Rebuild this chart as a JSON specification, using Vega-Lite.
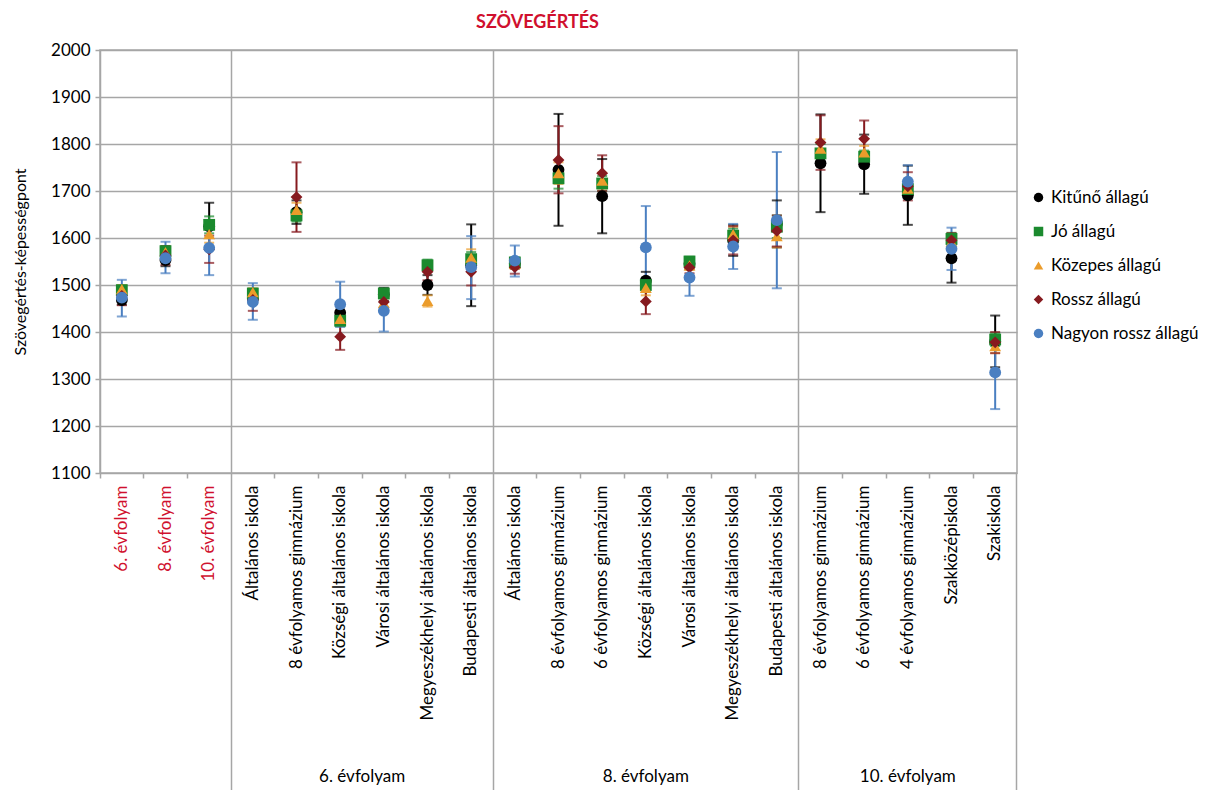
{
  "$schema": "https://vega.github.io/schema/vega-lite/v6.json",
  "autosize": {"type": "none"},
  "padding": {"left": 100, "top": 50, "right": 207, "bottom": 317},
  "width": 917,
  "height": 423,
  "title": {"text": "SZÖVEGÉRTÉS", "color": "#d0102e", "fontSize": 18, "fontWeight": "bold", "font": "Lato", "offset": 9, "dx": -21},
  "datasets": {
    "d": [
      {"c": "6. évfolyam", "s": "Kitűnő állagú", "v": 1468, "lo": 1458, "hi": 1478},
      {"c": "8. évfolyam", "s": "Kitűnő állagú", "v": 1553, "lo": 1540, "hi": 1566},
      {"c": "10. évfolyam", "s": "Kitűnő állagú", "v": 1625, "lo": 1575, "hi": 1675},
      {"c": "6|Általános iskola", "s": "Kitűnő állagú", "v": 1470, "lo": 1460, "hi": 1480},
      {"c": "6|8 évfolyamos gimnázium", "s": "Kitűnő állagú", "v": 1655, "lo": 1630, "hi": 1680},
      {"c": "6|Községi általános iskola", "s": "Kitűnő állagú", "v": 1441, "lo": 1425, "hi": 1457},
      {"c": "6|Városi általános iskola", "s": "Kitűnő állagú", "v": 1480, "lo": 1466, "hi": 1494},
      {"c": "6|Megyeszékhelyi általános iskola", "s": "Kitűnő állagú", "v": 1500, "lo": 1479, "hi": 1521},
      {"c": "6|Budapesti általános iskola", "s": "Kitűnő állagú", "v": 1542, "lo": 1455, "hi": 1629},
      {"c": "8|Általános iskola", "s": "Kitűnő állagú", "v": 1545, "lo": 1535, "hi": 1555},
      {"c": "8|8 évfolyamos gimnázium", "s": "Kitűnő állagú", "v": 1745, "lo": 1626, "hi": 1864},
      {"c": "8|6 évfolyamos gimnázium", "s": "Kitűnő állagú", "v": 1689, "lo": 1610, "hi": 1768},
      {"c": "8|Községi általános iskola", "s": "Kitűnő állagú", "v": 1509, "lo": 1490, "hi": 1528},
      {"c": "8|Városi általános iskola", "s": "Kitűnő állagú", "v": 1545, "lo": 1535, "hi": 1555},
      {"c": "8|Megyeszékhelyi általános iskola", "s": "Kitűnő állagú", "v": 1595, "lo": 1562, "hi": 1628},
      {"c": "8|Budapesti általános iskola", "s": "Kitűnő állagú", "v": 1630, "lo": 1580, "hi": 1680},
      {"c": "10|8 évfolyamos gimnázium", "s": "Kitűnő állagú", "v": 1759, "lo": 1655, "hi": 1863},
      {"c": "10|6 évfolyamos gimnázium", "s": "Kitűnő állagú", "v": 1757, "lo": 1694, "hi": 1820},
      {"c": "10|4 évfolyamos gimnázium", "s": "Kitűnő állagú", "v": 1691, "lo": 1628, "hi": 1754},
      {"c": "10|Szakközépiskola", "s": "Kitűnő állagú", "v": 1557, "lo": 1505, "hi": 1609},
      {"c": "10|Szakiskola", "s": "Kitűnő állagú", "v": 1380, "lo": 1325, "hi": 1435},

      {"c": "6. évfolyam", "s": "Jó állagú", "v": 1489, "lo": 1480, "hi": 1498},
      {"c": "8. évfolyam", "s": "Jó állagú", "v": 1572, "lo": 1562, "hi": 1582},
      {"c": "10. évfolyam", "s": "Jó állagú", "v": 1628, "lo": 1610, "hi": 1646},
      {"c": "6|Általános iskola", "s": "Jó állagú", "v": 1482, "lo": 1474, "hi": 1490},
      {"c": "6|8 évfolyamos gimnázium", "s": "Jó állagú", "v": 1648, "lo": 1635, "hi": 1661},
      {"c": "6|Községi általános iskola", "s": "Jó állagú", "v": 1424, "lo": 1412, "hi": 1436},
      {"c": "6|Városi általános iskola", "s": "Jó állagú", "v": 1482, "lo": 1472, "hi": 1492},
      {"c": "6|Megyeszékhelyi általános iskola", "s": "Jó állagú", "v": 1542, "lo": 1530, "hi": 1554},
      {"c": "6|Budapesti általános iskola", "s": "Jó állagú", "v": 1555, "lo": 1540, "hi": 1570},
      {"c": "8|Általános iskola", "s": "Jó állagú", "v": 1548, "lo": 1538, "hi": 1558},
      {"c": "8|8 évfolyamos gimnázium", "s": "Jó állagú", "v": 1727, "lo": 1705, "hi": 1749},
      {"c": "8|6 évfolyamos gimnázium", "s": "Jó állagú", "v": 1716, "lo": 1700, "hi": 1732},
      {"c": "8|Községi általános iskola", "s": "Jó állagú", "v": 1500, "lo": 1485, "hi": 1515},
      {"c": "8|Városi általános iskola", "s": "Jó állagú", "v": 1550, "lo": 1540, "hi": 1560},
      {"c": "8|Megyeszékhelyi általános iskola", "s": "Jó állagú", "v": 1605, "lo": 1590, "hi": 1620},
      {"c": "8|Budapesti általános iskola", "s": "Jó állagú", "v": 1624, "lo": 1600, "hi": 1648},
      {"c": "10|8 évfolyamos gimnázium", "s": "Jó állagú", "v": 1780, "lo": 1760, "hi": 1800},
      {"c": "10|6 évfolyamos gimnázium", "s": "Jó állagú", "v": 1773, "lo": 1760, "hi": 1786},
      {"c": "10|4 évfolyamos gimnázium", "s": "Jó állagú", "v": 1704, "lo": 1690, "hi": 1718},
      {"c": "10|Szakközépiskola", "s": "Jó állagú", "v": 1598, "lo": 1585, "hi": 1611},
      {"c": "10|Szakiskola", "s": "Jó állagú", "v": 1384, "lo": 1370, "hi": 1398},

      {"c": "6. évfolyam", "s": "Közepes állagú", "v": 1491, "lo": 1482, "hi": 1500},
      {"c": "8. évfolyam", "s": "Közepes állagú", "v": 1570, "lo": 1560, "hi": 1580},
      {"c": "10. évfolyam", "s": "Közepes állagú", "v": 1608, "lo": 1590, "hi": 1626},
      {"c": "6|Általános iskola", "s": "Közepes állagú", "v": 1485, "lo": 1477, "hi": 1493},
      {"c": "6|8 évfolyamos gimnázium", "s": "Közepes állagú", "v": 1660, "lo": 1645, "hi": 1675},
      {"c": "6|Községi általános iskola", "s": "Közepes állagú", "v": 1428, "lo": 1416, "hi": 1440},
      {"c": "6|Városi általános iskola", "s": "Közepes állagú", "v": 1462, "lo": 1452, "hi": 1472},
      {"c": "6|Megyeszékhelyi általános iskola", "s": "Közepes állagú", "v": 1466, "lo": 1454, "hi": 1478},
      {"c": "6|Budapesti általános iskola", "s": "Közepes állagú", "v": 1558, "lo": 1540, "hi": 1576},
      {"c": "8|Általános iskola", "s": "Közepes állagú", "v": 1545, "lo": 1535, "hi": 1555},
      {"c": "8|8 évfolyamos gimnázium", "s": "Közepes állagú", "v": 1738, "lo": 1715, "hi": 1761},
      {"c": "8|6 évfolyamos gimnázium", "s": "Közepes állagú", "v": 1722, "lo": 1705, "hi": 1739},
      {"c": "8|Községi általános iskola", "s": "Közepes állagú", "v": 1494, "lo": 1478, "hi": 1510},
      {"c": "8|Városi általános iskola", "s": "Közepes állagú", "v": 1542, "lo": 1532, "hi": 1552},
      {"c": "8|Megyeszékhelyi általános iskola", "s": "Közepes állagú", "v": 1608, "lo": 1592, "hi": 1624},
      {"c": "8|Budapesti általános iskola", "s": "Közepes állagú", "v": 1604, "lo": 1580, "hi": 1628},
      {"c": "10|8 évfolyamos gimnázium", "s": "Közepes állagú", "v": 1790, "lo": 1770, "hi": 1810},
      {"c": "10|6 évfolyamos gimnázium", "s": "Közepes állagú", "v": 1782, "lo": 1768, "hi": 1796},
      {"c": "10|4 évfolyamos gimnázium", "s": "Közepes állagú", "v": 1705, "lo": 1690, "hi": 1720},
      {"c": "10|Szakközépiskola", "s": "Közepes állagú", "v": 1592, "lo": 1578, "hi": 1606},
      {"c": "10|Szakiskola", "s": "Közepes állagú", "v": 1370, "lo": 1355, "hi": 1385},

      {"c": "6. évfolyam", "s": "Rossz állagú", "v": 1477, "lo": 1457, "hi": 1497},
      {"c": "8. évfolyam", "s": "Rossz állagú", "v": 1563, "lo": 1543, "hi": 1583},
      {"c": "10. évfolyam", "s": "Rossz állagú", "v": 1576, "lo": 1547, "hi": 1605},
      {"c": "6|Általános iskola", "s": "Rossz állagú", "v": 1468, "lo": 1445, "hi": 1491},
      {"c": "6|8 évfolyamos gimnázium", "s": "Rossz állagú", "v": 1687, "lo": 1613, "hi": 1761},
      {"c": "6|Községi általános iskola", "s": "Rossz állagú", "v": 1390, "lo": 1362, "hi": 1418},
      {"c": "6|Városi általános iskola", "s": "Rossz állagú", "v": 1464, "lo": 1452, "hi": 1476},
      {"c": "6|Megyeszékhelyi általános iskola", "s": "Rossz állagú", "v": 1528, "lo": 1510, "hi": 1546},
      {"c": "6|Budapesti általános iskola", "s": "Rossz állagú", "v": 1528, "lo": 1499, "hi": 1557},
      {"c": "8|Általános iskola", "s": "Rossz állagú", "v": 1538, "lo": 1524, "hi": 1552},
      {"c": "8|8 évfolyamos gimnázium", "s": "Rossz állagú", "v": 1766, "lo": 1695, "hi": 1838},
      {"c": "8|6 évfolyamos gimnázium", "s": "Rossz állagú", "v": 1738, "lo": 1700, "hi": 1776},
      {"c": "8|Községi általános iskola", "s": "Rossz állagú", "v": 1465, "lo": 1438, "hi": 1492},
      {"c": "8|Városi általános iskola", "s": "Rossz állagú", "v": 1537, "lo": 1525, "hi": 1549},
      {"c": "8|Megyeszékhelyi általános iskola", "s": "Rossz állagú", "v": 1595, "lo": 1565, "hi": 1625},
      {"c": "8|Budapesti általános iskola", "s": "Rossz állagú", "v": 1615, "lo": 1582, "hi": 1648},
      {"c": "10|8 évfolyamos gimnázium", "s": "Rossz állagú", "v": 1803, "lo": 1745, "hi": 1861},
      {"c": "10|6 évfolyamos gimnázium", "s": "Rossz állagú", "v": 1811, "lo": 1772, "hi": 1850},
      {"c": "10|4 évfolyamos gimnázium", "s": "Rossz állagú", "v": 1710, "lo": 1680, "hi": 1740},
      {"c": "10|Szakközépiskola", "s": "Rossz állagú", "v": 1595, "lo": 1580, "hi": 1610},
      {"c": "10|Szakiskola", "s": "Rossz állagú", "v": 1378, "lo": 1355, "hi": 1400},

      {"c": "6. évfolyam", "s": "Nagyon rossz állagú", "v": 1473, "lo": 1433, "hi": 1511},
      {"c": "8. évfolyam", "s": "Nagyon rossz állagú", "v": 1557, "lo": 1525, "hi": 1592},
      {"c": "10. évfolyam", "s": "Nagyon rossz állagú", "v": 1579, "lo": 1521, "hi": 1637},
      {"c": "6|Általános iskola", "s": "Nagyon rossz állagú", "v": 1464, "lo": 1426, "hi": 1504},
      {"c": "6|Községi általános iskola", "s": "Nagyon rossz állagú", "v": 1459, "lo": 1411, "hi": 1507},
      {"c": "6|Városi általános iskola", "s": "Nagyon rossz állagú", "v": 1445, "lo": 1401, "hi": 1489},
      {"c": "6|Budapesti általános iskola", "s": "Nagyon rossz állagú", "v": 1538, "lo": 1470, "hi": 1604},
      {"c": "8|Általános iskola", "s": "Nagyon rossz állagú", "v": 1552, "lo": 1518, "hi": 1584},
      {"c": "8|Községi általános iskola", "s": "Nagyon rossz állagú", "v": 1580, "lo": 1492, "hi": 1668},
      {"c": "8|Városi általános iskola", "s": "Nagyon rossz állagú", "v": 1516, "lo": 1477, "hi": 1555},
      {"c": "8|Megyeszékhelyi általános iskola", "s": "Nagyon rossz állagú", "v": 1582, "lo": 1534, "hi": 1630},
      {"c": "8|Budapesti általános iskola", "s": "Nagyon rossz állagú", "v": 1638, "lo": 1493, "hi": 1783},
      {"c": "10|4 évfolyamos gimnázium", "s": "Nagyon rossz állagú", "v": 1720, "lo": 1685, "hi": 1755},
      {"c": "10|Szakközépiskola", "s": "Nagyon rossz állagú", "v": 1577, "lo": 1532, "hi": 1622},
      {"c": "10|Szakiskola", "s": "Nagyon rossz állagú", "v": 1314, "lo": 1236, "hi": 1392}
    ]
  },
  "data": {"name": "d"},
  "resolve": {"axis": {"x": "independent"}, "legend": {"color": "independent", "shape": "independent"}},
  "layer": [
    {
      "mark": {"type": "rule", "strokeWidth": 2},
      "encoding": {
        "x": {"field": "c", "type": "nominal",
          "scale": {"type": "band", "paddingInner": 0, "paddingOuter": 0, "domain": ["6. évfolyam", "8. évfolyam", "10. évfolyam", "6|Általános iskola", "6|8 évfolyamos gimnázium", "6|Községi általános iskola", "6|Városi általános iskola", "6|Megyeszékhelyi általános iskola", "6|Budapesti általános iskola", "8|Általános iskola", "8|8 évfolyamos gimnázium", "8|6 évfolyamos gimnázium", "8|Községi általános iskola", "8|Városi általános iskola", "8|Megyeszékhelyi általános iskola", "8|Budapesti általános iskola", "10|8 évfolyamos gimnázium", "10|6 évfolyamos gimnázium", "10|4 évfolyamos gimnázium", "10|Szakközépiskola", "10|Szakiskola"]},
          "axis": {"title": null, "orient": "bottom", "labelAngle": -90, "labelFontSize": 17, "labelFont": "Lato", "labelPadding": 12, "labelLimit": 400, "ticks": false, "domain": false, "grid": false,
            "labelExpr": "indexof(datum.value,'|')>=0 ? slice(datum.value, indexof(datum.value,'|')+1) : datum.value",
            "labelColor": {"condition": {"test": "indexof(datum.value,'|')<0", "value": "#d0102e"}, "value": "#000000"}}},
        "y": {"field": "lo", "type": "quantitative", "title": "Szövegértés-képességpont", "scale": {"domain": [1100, 2000], "nice": false, "zero": false}},
        "y2": {"field": "hi"},
        "color": {"field": "s", "type": "nominal", "title": null, "legend": null,
          "scale": {"domain": ["Kitűnő állagú", "Jó állagú", "Közepes állagú", "Rossz állagú", "Nagyon rossz állagú"], "range": ["#000000", "#1b8a2e", "#eb9c2b", "#861a1f", "#4a7fc1"]}}
      }
    },
    {
      "mark": {"type": "tick", "orient": "horizontal", "size": 10, "thickness": 2},
      "encoding": {
        "x": {"field": "c", "type": "nominal",
          "scale": {"type": "band", "paddingInner": 0, "paddingOuter": 0, "domain": ["6. évfolyam", "8. évfolyam", "10. évfolyam", "6|Általános iskola", "6|8 évfolyamos gimnázium", "6|Községi általános iskola", "6|Városi általános iskola", "6|Megyeszékhelyi általános iskola", "6|Budapesti általános iskola", "8|Általános iskola", "8|8 évfolyamos gimnázium", "8|6 évfolyamos gimnázium", "8|Községi általános iskola", "8|Városi általános iskola", "8|Megyeszékhelyi általános iskola", "8|Budapesti általános iskola", "10|8 évfolyamos gimnázium", "10|6 évfolyamos gimnázium", "10|4 évfolyamos gimnázium", "10|Szakközépiskola", "10|Szakiskola"]},
          "axis": {"title": null, "orient": "bottom", "labels": false, "domain": false, "bandPosition": 0,
            "ticks": true, "tickColor": "#a6a6a6", "tickWidth": 1.5,
            "tickSize": {"condition": {"test": "indexof(['6|Általános iskola','8|Általános iskola','10|8 évfolyamos gimnázium'], datum.value)>=0", "value": 317}, "value": 5},
            "grid": true, "gridColor": "#a6a6a6", "gridWidth": 1.5,
            "gridOpacity": {"condition": {"test": "indexof(['6|Általános iskola','8|Általános iskola','10|8 évfolyamos gimnázium'], datum.value)>=0", "value": 1}, "value": 0}}},
        "y": {"field": "lo", "type": "quantitative", "title": "Szövegértés-képességpont"},
        "color": {"field": "s", "type": "nominal", "title": null, "legend": null}
      }
    },
    {
      "mark": {"type": "tick", "orient": "horizontal", "size": 10, "thickness": 2},
      "encoding": {
        "x": {"field": "c", "type": "nominal",
          "scale": {"type": "band", "paddingInner": 0, "paddingOuter": 0, "domain": ["6. évfolyam", "8. évfolyam", "10. évfolyam", "6|Általános iskola", "6|8 évfolyamos gimnázium", "6|Községi általános iskola", "6|Városi általános iskola", "6|Megyeszékhelyi általános iskola", "6|Budapesti általános iskola", "8|Általános iskola", "8|8 évfolyamos gimnázium", "8|6 évfolyamos gimnázium", "8|Községi általános iskola", "8|Városi általános iskola", "8|Megyeszékhelyi általános iskola", "8|Budapesti általános iskola", "10|8 évfolyamos gimnázium", "10|6 évfolyamos gimnázium", "10|4 évfolyamos gimnázium", "10|Szakközépiskola", "10|Szakiskola"]},
          "axis": {"title": null, "orient": "bottom", "labels": false, "domain": false, "grid": false, "bandPosition": 1,
            "values": ["10|Szakiskola"], "ticks": true, "tickColor": "#a6a6a6", "tickWidth": 1.5, "tickSize": 317}},
        "y": {"field": "hi", "type": "quantitative", "title": "Szövegértés-képességpont"},
        "color": {"field": "s", "type": "nominal", "title": null, "legend": null}
      }
    },
    {
      "mark": {"type": "point", "filled": true, "size": 140, "opacity": 1},
      "encoding": {
        "x": {"field": "c", "type": "nominal",
          "scale": {"type": "band", "paddingInner": 0, "paddingOuter": 0, "domain": ["6. évfolyam", "8. évfolyam", "10. évfolyam", "6|Általános iskola", "6|8 évfolyamos gimnázium", "6|Községi általános iskola", "6|Városi általános iskola", "6|Megyeszékhelyi általános iskola", "6|Budapesti általános iskola", "8|Általános iskola", "8|8 évfolyamos gimnázium", "8|6 évfolyamos gimnázium", "8|Községi általános iskola", "8|Városi általános iskola", "8|Megyeszékhelyi általános iskola", "8|Budapesti általános iskola", "10|8 évfolyamos gimnázium", "10|6 évfolyamos gimnázium", "10|4 évfolyamos gimnázium", "10|Szakközépiskola", "10|Szakiskola"]},
          "axis": {"title": null, "orient": "bottom", "ticks": false, "tickSize": 0, "domain": false, "grid": false, "labelAngle": 0,
            "values": ["6|Községi általános iskola", "8|Községi általános iskola", "10|4 évfolyamos gimnázium"],
            "labelExpr": "datum.value=='6|Községi általános iskola' ? '6. évfolyam' : (datum.value=='8|Községi általános iskola' ? '8. évfolyam' : '10. évfolyam')",
            "labelOffset": {"condition": {"test": "datum.value=='6|Községi általános iskola'", "value": 22}, "value": 0},
            "labelFontSize": 17, "labelFont": "Lato", "labelColor": "#000000", "labelBaseline": "top", "labelPadding": 295}},
        "y": {"field": "v", "type": "quantitative", "title": "Szövegértés-képességpont"},
        "color": {"field": "s", "type": "nominal", "title": null, "legend": {"title": null}},
        "shape": {"field": "s", "type": "nominal", "title": null, "legend": {"title": null},
          "scale": {"domain": ["Kitűnő állagú", "Jó állagú", "Közepes állagú", "Rossz állagú", "Nagyon rossz állagú"], "range": ["circle", "square", "triangle-up", "diamond", "circle"]}}
      }
    }
  ],
  "config": {
    "font": "Lato",
    "view": {"stroke": "#a6a6a6", "strokeWidth": 1.5},
    "axisY": {"grid": true, "gridColor": "#a6a6a6", "gridWidth": 1.5, "domainColor": "#a6a6a6", "domainWidth": 1.5, "tickColor": "#a6a6a6", "tickWidth": 1.5, "tickSize": 5,
      "labelFontSize": 17, "labelFont": "Lato", "labelColor": "#000000", "labelPadding": 5, "format": "d",
      "values": [1100, 1200, 1300, 1400, 1500, 1600, 1700, 1800, 1900, 2000],
      "titleFontSize": 16, "titleFont": "Lato", "titleFontWeight": "normal", "titleColor": "#000000", "titlePadding": 22},
    "legend": {"orient": "none", "legendX": 930, "legendY": 139, "labelFontSize": 17, "labelFont": "Lato", "labelColor": "#000000", "symbolSize": 90, "rowPadding": 16, "symbolStrokeWidth": 0, "labelLimit": 300}
  }
}
